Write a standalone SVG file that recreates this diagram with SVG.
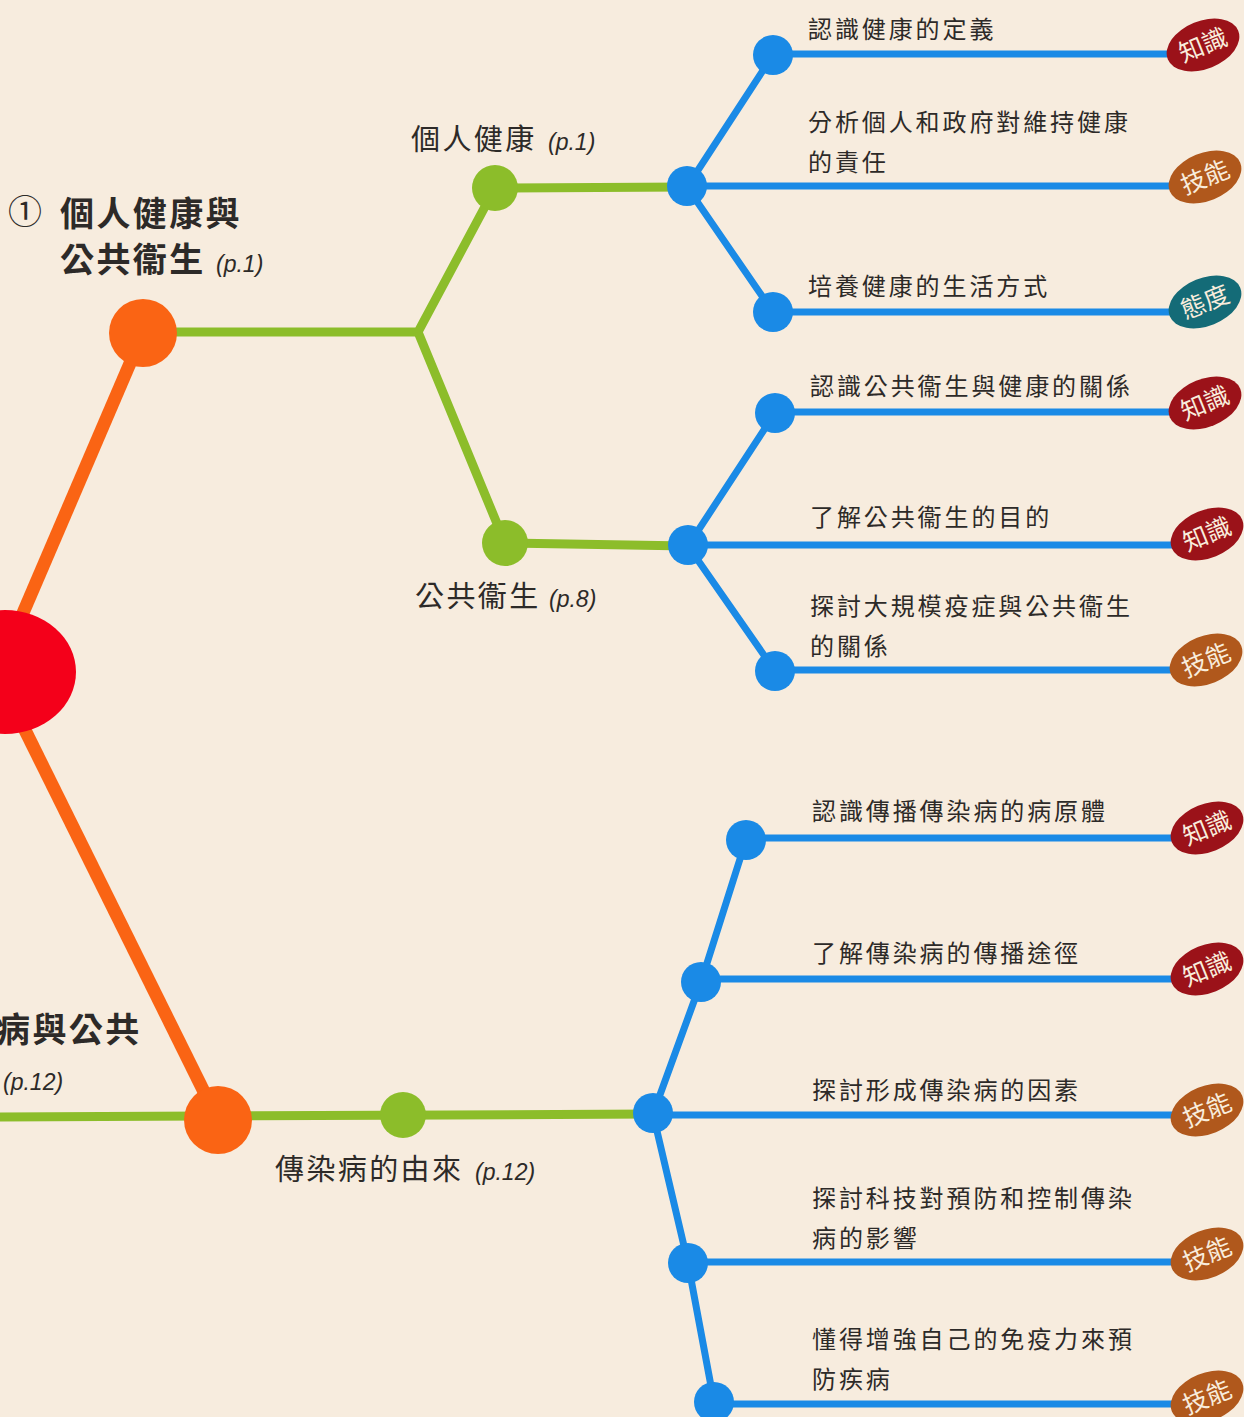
<svg xmlns="http://www.w3.org/2000/svg" width="1244" height="1417" viewBox="0 0 1244 1417">
<defs>
<style>
.t{font-family:"Noto Sans CJK TC","Noto Sans CJK SC",sans-serif;fill:#2d2a28}
.leaf{font-size:24px;letter-spacing:2.9px}
.mid{font-size:29px;letter-spacing:2.4px}
.ttl{font-size:34px;font-weight:bold;letter-spacing:2.4px}
.pg{font-family:"Liberation Sans",Arial,sans-serif;font-style:italic;font-size:23px;fill:#2d2a28}
.bt{font-family:"Noto Sans CJK TC",sans-serif;font-size:25px;fill:#f8ecdc}
.bl{stroke:#1a8ae6;stroke-width:7;fill:none;stroke-linecap:round}
.gr{stroke:#8cbd2a;stroke-width:9;fill:none}
.or{stroke:#fa6414;stroke-width:13;fill:none}
.bn{fill:#1a8ae6}
.gn{fill:#8cbd2a}
.on{fill:#fa6414}
.k{fill:#9b1219}
.s{fill:#b0581c}
.a{fill:#146b77}
</style>
</defs>
<rect width="1244" height="1417" fill="#f7ecde"/>
<g id="connectors">
<line class="or" x1="20" y1="620" x2="143" y2="333"/>
<line class="or" x1="20" y1="720" x2="218" y2="1120"/>
<polyline class="gr" points="143,332 418,332 495,188 687,187"/>
<polyline class="gr" points="418,332 505,543 688,546"/>
<line class="gr" x1="0" y1="1117" x2="653" y2="1114"/>
<polyline class="bl" points="773,55 687,187 773,312"/>
<line class="bl" x1="773" y1="54" x2="1180" y2="54"/>
<line class="bl" x1="687" y1="186" x2="1180" y2="186"/>
<line class="bl" x1="773" y1="312" x2="1180" y2="312"/>
<polyline class="bl" points="775,413 688,546 775,671"/>
<line class="bl" x1="775" y1="412" x2="1180" y2="412"/>
<line class="bl" x1="688" y1="545" x2="1180" y2="545"/>
<line class="bl" x1="775" y1="670" x2="1180" y2="670"/>
<polyline class="bl" points="746,840 701,982 653,1114 688,1263 714,1402"/>
<line class="bl" x1="746" y1="838" x2="1180" y2="838"/>
<line class="bl" x1="701" y1="979" x2="1180" y2="979"/>
<line class="bl" x1="653" y1="1115" x2="1180" y2="1115"/>
<line class="bl" x1="688" y1="1262" x2="1180" y2="1262"/>
<line class="bl" x1="714" y1="1404" x2="1180" y2="1404"/>
</g>
<g id="root"><ellipse cx="5" cy="672" rx="71" ry="62" fill="#f4001a"/></g>
<g id="n1"><circle class="on" cx="143" cy="333" r="34"/>
<text class="t" x="8" y="224" font-size="34">①</text>
<text class="t ttl" x="60" y="226">個人健康與</text>
<text class="t ttl" x="60" y="272">公共衞生</text><text class="pg" x="216" y="272">(p.1)</text></g>
<g id="n2"><circle class="on" cx="218" cy="1120" r="34"/>
<text class="t ttl" x="-4" y="1042">病與公共</text>
<text class="pg" x="3" y="1090">(p.12)</text></g>
<g id="n11"><circle class="gn" cx="495" cy="188" r="23"/><text class="t mid" x="411" y="150">個人健康</text><text class="pg" x="548" y="150">(p.1)</text></g>
<g id="n12"><circle class="gn" cx="505" cy="543" r="23"/><text class="t mid" x="415" y="607">公共衞生</text><text class="pg" x="549" y="607">(p.8)</text></g>
<g id="n21"><circle class="gn" cx="403" cy="1115" r="23"/><text class="t mid" x="275" y="1180">傳染病的由來</text><text class="pg" x="475" y="1180">(p.12)</text></g>
<g id="b11"><circle class="bn" cx="687" cy="186" r="20"/></g>
<g id="b12"><circle class="bn" cx="688" cy="545" r="20"/></g>
<g id="b21"><circle class="bn" cx="653" cy="1113" r="20"/></g>
<g id="l1"><circle class="bn" cx="773" cy="55" r="20"/><text class="t leaf" x="808" y="38">認識健康的定義</text>
<ellipse class="k" cx="1203" cy="45" rx="38" ry="24" transform="rotate(-22 1203 45)"/><text class="bt" x="1203" y="54" text-anchor="middle" transform="rotate(-22 1203 45)">知識</text></g>
<g id="l2"><text class="t leaf" x="808" y="131">分析個人和政府對維持健康</text><text class="t leaf" x="808" y="171">的責任</text>
<ellipse class="s" cx="1205" cy="177" rx="38" ry="24" transform="rotate(-22 1205 177)"/><text class="bt" x="1205" y="186" text-anchor="middle" transform="rotate(-22 1205 177)">技能</text></g>
<g id="l3"><circle class="bn" cx="773" cy="312" r="20"/><text class="t leaf" x="808" y="295">培養健康的生活方式</text>
<ellipse class="a" cx="1205" cy="302" rx="38" ry="24" transform="rotate(-22 1205 302)"/><text class="bt" x="1205" y="311" text-anchor="middle" transform="rotate(-22 1205 302)">態度</text></g>
<g id="l4"><circle class="bn" cx="775" cy="413" r="20"/><text class="t leaf" x="810" y="395">認識公共衞生與健康的關係</text>
<ellipse class="k" cx="1205" cy="403" rx="38" ry="24" transform="rotate(-22 1205 403)"/><text class="bt" x="1205" y="412" text-anchor="middle" transform="rotate(-22 1205 403)">知識</text></g>
<g id="l5"><text class="t leaf" x="810" y="526">了解公共衞生的目的</text>
<ellipse class="k" cx="1207" cy="534" rx="38" ry="24" transform="rotate(-22 1207 534)"/><text class="bt" x="1207" y="543" text-anchor="middle" transform="rotate(-22 1207 534)">知識</text></g>
<g id="l6"><circle class="bn" cx="775" cy="671" r="20"/><text class="t leaf" x="810" y="615">探討大規模疫症與公共衞生</text><text class="t leaf" x="810" y="655">的關係</text>
<ellipse class="s" cx="1206" cy="660" rx="38" ry="24" transform="rotate(-22 1206 660)"/><text class="bt" x="1206" y="669" text-anchor="middle" transform="rotate(-22 1206 660)">技能</text></g>
<g id="l7"><circle class="bn" cx="746" cy="840" r="20"/><text class="t leaf" x="812" y="820">認識傳播傳染病的病原體</text>
<ellipse class="k" cx="1207" cy="828" rx="38" ry="24" transform="rotate(-22 1207 828)"/><text class="bt" x="1207" y="837" text-anchor="middle" transform="rotate(-22 1207 828)">知識</text></g>
<g id="l8"><circle class="bn" cx="701" cy="982" r="20"/><text class="t leaf" x="812" y="962">了解傳染病的傳播途徑</text>
<ellipse class="k" cx="1207" cy="969" rx="38" ry="24" transform="rotate(-22 1207 969)"/><text class="bt" x="1207" y="978" text-anchor="middle" transform="rotate(-22 1207 969)">知識</text></g>
<g id="l9"><text class="t leaf" x="812" y="1099">探討形成傳染病的因素</text>
<ellipse class="s" cx="1207" cy="1110" rx="38" ry="24" transform="rotate(-22 1207 1110)"/><text class="bt" x="1207" y="1119" text-anchor="middle" transform="rotate(-22 1207 1110)">技能</text></g>
<g id="l10"><circle class="bn" cx="688" cy="1263" r="20"/><text class="t leaf" x="812" y="1207">探討科技對預防和控制傳染</text><text class="t leaf" x="812" y="1247">病的影響</text>
<ellipse class="s" cx="1207" cy="1254" rx="38" ry="24" transform="rotate(-22 1207 1254)"/><text class="bt" x="1207" y="1263" text-anchor="middle" transform="rotate(-22 1207 1254)">技能</text></g>
<g id="l11"><circle class="bn" cx="714" cy="1402" r="20"/><text class="t leaf" x="812" y="1348">懂得增強自己的免疫力來預</text><text class="t leaf" x="812" y="1388">防疾病</text>
<ellipse class="s" cx="1207" cy="1397" rx="38" ry="24" transform="rotate(-22 1207 1397)"/><text class="bt" x="1207" y="1406" text-anchor="middle" transform="rotate(-22 1207 1397)">技能</text></g>
</svg>
